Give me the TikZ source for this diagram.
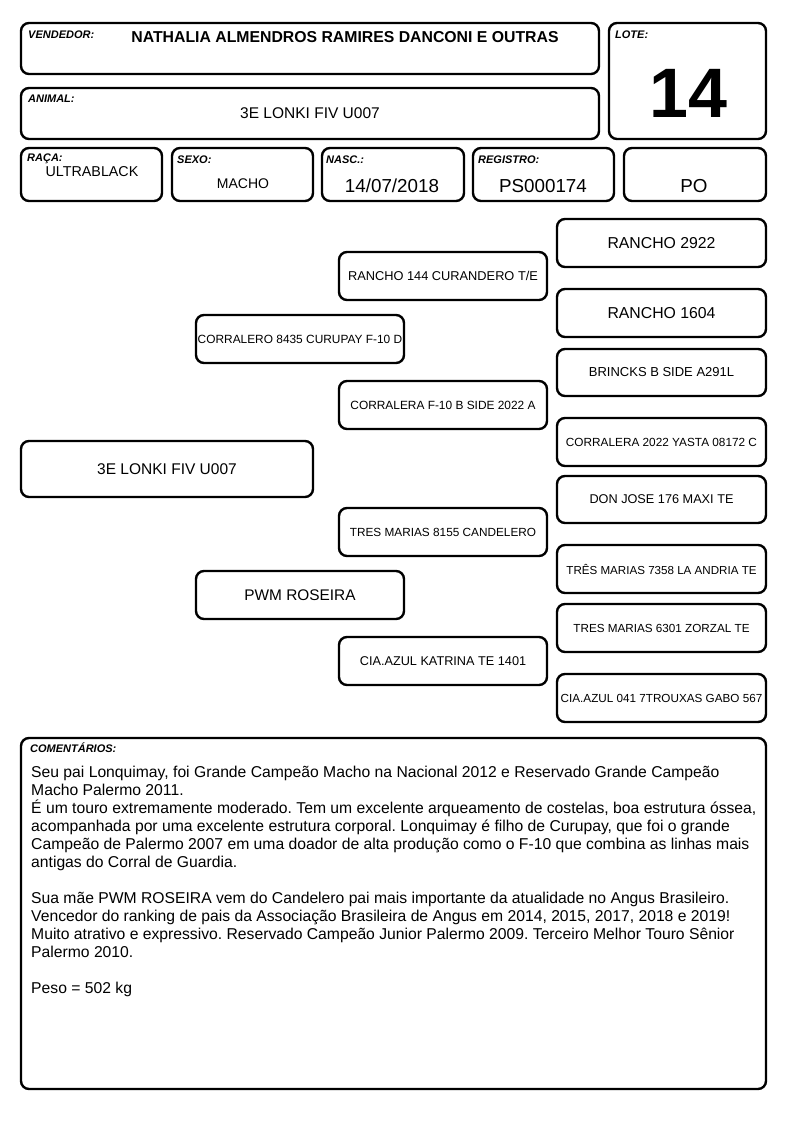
\documentclass[tikz,border=0pt]{standalone}
\usepackage{fontspec}
\setmainfont{Liberation Sans}
\frenchspacing
\newcommand\fs[1]{\fontsize{#1}{#1}\selectfont}
\newcommand\bx[7]{\node[box, minimum width={#4-#2}, minimum height={#5-#3}, font=\fs{#6}] (#1) at ({(#2+#4)/2},{(#3+#5)/2}) {#7};}
\begin{document}
\begin{tikzpicture}[x=1pt,y=-1pt,
  box/.style={draw, line width=2.4pt, rounded corners=8pt, inner sep=0pt, align=center},
  lbl/.style={anchor=base west, inner sep=0pt, font=\fs{11}\bfseries\itshape},
  val/.style={anchor=base, inner sep=0pt}]
\useasboundingbox[fill=white] (0,0) rectangle (794,1123);
% header
\bx{vend}{21}{23}{599}{74}{10}{}
\bx{anim}{21}{88}{599}{139}{10}{}
\bx{lote}{609}{23}{766}{139}{10}{}
\bx{raca}{21}{148}{162}{201}{10}{}
\bx{sexo}{172}{148}{313}{201}{10}{}
\bx{nasc}{322}{148}{464}{201}{10}{}
\bx{reg}{473}{148}{614}{201}{10}{}
\bx{po}{624}{148}{766}{201}{10}{}
\node[lbl] (lvend) at (28,39) {VENDEDOR:};
\node[val, font=\fs{15.8}\bfseries] (tvend) at (345,43) {NATHALIA ALMENDROS RAMIRES DANCONI E OUTRAS};
\node[lbl] (lanim) at (28,103) {ANIMAL:};
\node[val, font=\fs{15.5}] (tanim) at (310,119) {3E LONKI FIV U007};
\node[lbl] (llote) at (615,39) {LOTE:};
\node[val, font=\fs{70}\bfseries] (tlote) at (688,118) {14};
\node[lbl] (lraca) at (27,162) {RAÇA:};
\node[val, font=\fs{14.3}] (traca) at (92,177) {ULTRABLACK};
\node[lbl] (lsexo) at (177,164) {SEXO:};
\node[val, font=\fs{14}] (tsexo) at (243,189) {MACHO};
\node[lbl] (lnasc) at (326,164) {NASC.:};
\node[val, font=\fs{18.8}] (tnasc) at (392,193) {14/07/2018};
\node[lbl] (lreg) at (478,164) {REGISTRO:};
\node[val, font=\fs{18.8}] (treg) at (543,193) {PS000174};
\node[val, font=\fs{18.8}] (tpo) at (694,193) {PO};
% pedigree
\bx{a}{21}{441}{313}{497}{15.5}{3E LONKI FIV U007}
\bx{p}{196}{315}{404}{363}{11.9}{CORRALERO 8435 CURUPAY F-10 D}
\bx{m}{196}{571}{404}{619}{15.4}{PWM ROSEIRA}
\bx{pp}{339}{252}{547}{300}{12.8}{RANCHO 144 CURANDERO T/E}
\bx{pm}{339}{381}{547}{429}{11.9}{CORRALERA F-10 B SIDE 2022 A}
\bx{mp}{339}{508}{547}{556}{11.8}{TRES MARIAS 8155 CANDELERO}
\bx{mm}{339}{637}{547}{685}{12.7}{CIA.AZUL KATRINA TE 1401}
\bx{ppp}{557}{219}{766}{267}{15.8}{RANCHO 2922}
\bx{ppm}{557}{289}{766}{337}{15.8}{RANCHO 1604}
\bx{pmp}{557}{349}{766}{396}{13}{BRINCKS B SIDE A291L}
\bx{pmm}{557}{418}{766}{466}{11.8}{CORRALERA 2022 YASTA 08172 C}
\bx{mpp}{557}{476}{766}{523}{12.7}{DON JOSE 176 MAXI TE}
\bx{mpm}{557}{545}{766}{593}{11.6}{TRÊS MARIAS 7358 LA ANDRIA TE}
\bx{mmp}{557}{604}{766}{652}{11.7}{TRES MARIAS 6301 ZORZAL TE}
\bx{mmm}{557}{674}{766}{722}{11.7}{CIA.AZUL 041 7TROUXAS GABO 567}
% comments
\bx{com}{21}{738}{766}{1089}{10}{}
\node[lbl] (lcom) at (30,752) {COMENTÁRIOS:};
\node[anchor=north west, inner sep=0pt, align=left, font=\fontsize{15.7}{18}\selectfont] (tcom) at (31,765.5) {%
Seu pai Lonquimay, foi Grande Campeão Macho na Nacional 2012 e Reservado Grande Campeão\\
Macho Palermo 2011.\\
É um touro extremamente moderado. Tem um excelente arqueamento de costelas, boa estrutura óssea,\\
acompanhada por uma excelente estrutura corporal. Lonquimay é filho de Curupay, que foi o grande\\
Campeão de Palermo 2007 em uma doador de alta produção como o F-10 que combina as linhas mais\\
antigas do Corral de Guardia.\\[18pt]
Sua mãe PWM ROSEIRA vem do Candelero pai mais importante da atualidade no Angus Brasileiro.\\
Vencedor do ranking de pais da Associação Brasileira de Angus em 2014, 2015, 2017, 2018 e 2019!\\
Muito atrativo e expressivo. Reservado Campeão Junior Palermo 2009. Terceiro Melhor Touro Sênior\\
Palermo 2010.\\[18pt]
Peso = 502 kg};
\end{tikzpicture}
\end{document}
